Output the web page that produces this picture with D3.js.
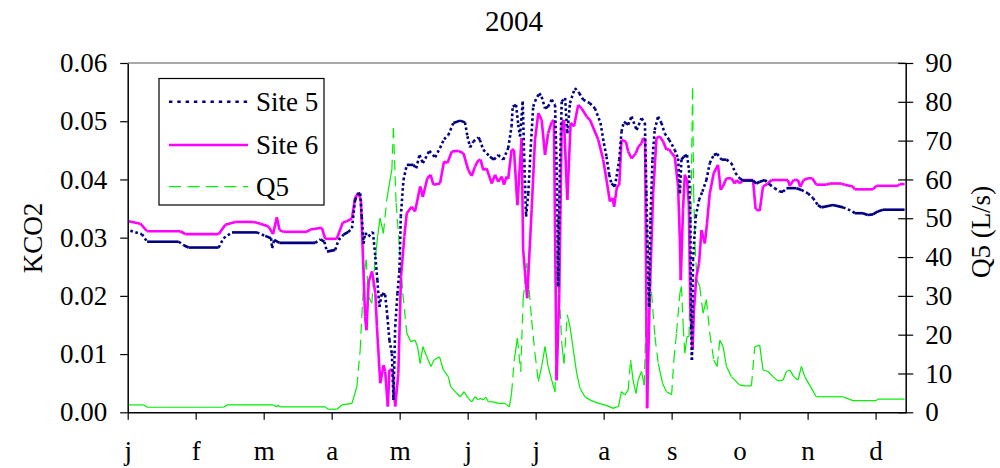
<!DOCTYPE html>
<html lang="en">
<head>
    <meta charset="UTF-8">
    <title>2004</title>
    <script src="https://d3js.org/d3.v7.min.js" charset="utf-8"></script>
    <style>
        body { margin: 0; background: #fff; }
        text { font-family: "Liberation Serif", "Times New Roman", serif; fill: #000; }
    </style>
</head>
<body>
<script>
    // month tick labels (x axis is day of year, one tick every 30.5 days)
    var months = ["j", "f", "m", "a", "m", "j", "j", "a", "s", "o", "n", "d"];
    var leftTicks = [0, 0.01, 0.02, 0.03, 0.04, 0.05, 0.06];
    var rightTicks = [0, 10, 20, 30, 40, 50, 60, 70, 80, 90];

    // [day, KCO2] Site 5
    var site5 = [[1.2,0.0312],[6.4,0.0306],[8.7,0.0293],[22.9,0.0293],[25.1,0.0287],[27.3,0.0283],[40.8,0.0283],
        [43,0.0299],[46.8,0.0309],[58,0.0309],[61.7,0.0303],[64.3,0.0299],[64.8,0.0282],[65.7,0.0296],[68.1,0.0291],
        [84.1,0.0291],[86.4,0.0297],[88.2,0.0293],[89.4,0.0276],[93.1,0.0279],[94.6,0.0296],[96.8,0.0305],[99,0.0310],
        [100.6,0.0316],[102,0.0365],[103.5,0.0376],[104.3,0.0376],[105,0.0336],[105.8,0.0290],[106.5,0.0308],[108,0.0302],
        [110,0.0310],[111.1,0.0267],[112,0.0227],[112.9,0.0181],[114,0.0204],[115.5,0.0202],[116.5,0.0164],[117.4,0.0124],
        [118.5,0.0101],[119.2,0.0021],[120,0.0147],[121,0.0204],[121.9,0.0244],[122.5,0.0336],[123.7,0.0399],[125.2,0.0425],
        [128.2,0.0425],[129.4,0.0419],[130.9,0.0442],[132.4,0.0428],[135.3,0.0449],[137.9,0.0438],[140.1,0.0454],[141.9,0.0469],
        [143.8,0.0476],[146.1,0.0497],[149.1,0.0501],[151.3,0.0498],[152.4,0.0474],[153.6,0.0455],[155,0.0465],[157.3,0.0472],
        [158,0.0468],[159.5,0.0451],[162.5,0.0439],[164.3,0.0434],[166.2,0.0442],[168.5,0.0434],[170.7,0.0454],[172.2,0.0491],
        [172.7,0.0525],[174.2,0.0528],[175.2,0.0494],[176,0.0474],[177.2,0.0534],[177.9,0.0434],[178.7,0.0336],[179.7,0.0376],
        [180.8,0.0456],[181.9,0.0525],[182.7,0.0534],[184.6,0.0548],[185.7,0.0542],[187.2,0.0522],[188.6,0.0525],[190.2,0.0537],
        [191.7,0.0528],[192.7,0.0376],[193.1,0.0216],[193.9,0.0422],[194.7,0.0534],[196.2,0.0540],[197.2,0.0479],[198.4,0.0531],
        [200.6,0.0557],[202.6,0.0548],[204.3,0.0537],[207.3,0.0531],[209.6,0.0522],[212.1,0.0497],[213.6,0.0462],[214.8,0.0439],
        [216,0.0408],[217,0.0393],[218.5,0.0388],[219.3,0.0405],[220.5,0.0434],[221.5,0.0482],[222.6,0.0499],[224.5,0.0494],
        [226,0.0508],[228.3,0.0485],[230.5,0.0505],[232,0.0497],[232.7,0.0376],[233.5,0.0233],[233.9,0.0181],[234.5,0.0330],
        [235.4,0.0434],[236.4,0.0485],[237.9,0.0508],[239.4,0.0497],[240.9,0.0479],[242.9,0.0468],[245.4,0.0451],[246.9,0.0436],
        [247.7,0.0376],[248.4,0.0434],[249.4,0.0439],[250.9,0.0442],[251.8,0.0416],[252.4,0.0330],[252.8,0.0147],[253.1,0.0090],
        [253.6,0.0262],[254.8,0.0336],[256.3,0.0365],[257.8,0.0379],[259.6,0.0399],[261.1,0.0428],[262.9,0.0442],[264.4,0.0444],
        [266.4,0.0434],[268.6,0.0434],[270.8,0.0428],[272.6,0.0411],[274.5,0.0402],[276,0.0398],[280.5,0.0398],[282,0.0393],
        [283.5,0.0396],[285.8,0.0399],[288,0.0391],[290.2,0.0385],[292.5,0.0379],[294,0.0379],[295.5,0.0385],[300,0.0385],
        [302.2,0.0382],[305.2,0.0376],[307.4,0.0368],[309.6,0.0356],[311.2,0.0352],[316.4,0.0356],[320.9,0.0352],[325.3,0.0345],
        [326.1,0.0342],[329.8,0.0342],[332,0.0339],[334.3,0.0340],[336.5,0.0345],[338.8,0.0348],[348.5,0.0348]];

    // [day, KCO2] Site 6
    var site6 = [[0.4,0.0328],[5.7,0.0324],[8.7,0.0311],[23.6,0.0311],[25.9,0.0306],[40.8,0.0306],[43.8,0.0322],[48.3,0.0327],
        [56.5,0.0327],[59.5,0.0324],[63.2,0.0319],[65.2,0.0306],[66.9,0.0335],[68.1,0.0313],[69.9,0.0310],[80.4,0.0310],
        [81.9,0.0314],[87.1,0.0317],[88.6,0.0298],[93.8,0.0298],[96.5,0.0326],[98.3,0.0328],[100.6,0.0333],[102,0.0368],
        [103.5,0.0377],[104.6,0.0365],[106.5,0.0164],[107.1,0.0141],[108.1,0.0224],[109.6,0.0242],[111.1,0.0204],[111.8,0.0147],
        [113.3,0.0050],[114.8,0.0081],[115.5,0.0070],[116.7,0.0010],[117.4,0.0073],[118.9,0.0073],[120,0.0010],[121.4,0.0067],
        [122.6,0.0233],[124.1,0.0302],[125.2,0.0342],[127.4,0.0353],[128.9,0.0345],[131.2,0.0388],[132.4,0.0370],[134.4,0.0402],
        [135.9,0.0408],[137.1,0.0391],[140.1,0.0393],[141.9,0.0431],[143.4,0.0428],[145.4,0.0448],[148.3,0.0449],[150.6,0.0445],
        [152.8,0.0416],[154.3,0.0406],[155.8,0.0422],[157.3,0.0433],[158.3,0.0434],[159.5,0.0416],[161,0.0419],[163.3,0.0393],
        [164.8,0.0408],[166.2,0.0396],[167.8,0.0405],[168.8,0.0391],[170,0.0405],[170.7,0.0401],[172.2,0.0451],[173.3,0.0451],
        [174.8,0.0356],[176.7,0.0471],[177.4,0.0279],[179.2,0.0196],[181.2,0.0348],[182.7,0.0468],[184.2,0.0514],[185.7,0.0502],
        [187.2,0.0442],[188.6,0.0479],[190.2,0.0499],[191.2,0.0502],[192.4,0.0055],[193.6,0.0204],[194.7,0.0497],[195.7,0.0502],
        [197.2,0.0365],[198.7,0.0497],[200.2,0.0491],[202.1,0.0528],[203.6,0.0522],[205.9,0.0508],[207.4,0.0502],[211.1,0.0468],
        [213.3,0.0434],[214.8,0.0399],[216.3,0.0362],[217.5,0.0368],[218.2,0.0353],[219.5,0.0388],[220.5,0.0390],[221.5,0.0468],
        [223.5,0.0465],[224.5,0.0448],[226,0.0436],[228,0.0445],[229,0.0456],[230.5,0.0462],[231.2,0.0471],[232.1,0.0468],
        [233,0.0007],[234.2,0.0204],[235.7,0.0376],[237.2,0.0471],[238.7,0.0474],[240.2,0.0465],[241.7,0.0451],[242.9,0.0452],
        [244,0.0445],[245.4,0.0439],[246.9,0.0388],[247.7,0.0296],[248.1,0.0227],[249.1,0.0348],[249.9,0.0408],[250.9,0.0399],
        [251.7,0.0359],[252.4,0.0176],[253.4,0.0107],[254,0.0176],[255.1,0.0233],[256.3,0.0256],[257.4,0.0313],[258.9,0.0290],
        [259.9,0.0325],[261.1,0.0376],[262.9,0.0411],[264.8,0.0425],[266,0.0382],[267,0.0388],[268.6,0.0402],[270.8,0.0402],
        [272.3,0.0393],[273.3,0.0399],[274.6,0.0393],[276,0.0399],[280.5,0.0399],[281.7,0.0349],[283.5,0.0346],[285,0.0388],
        [287.2,0.0393],[288.8,0.0399],[296.2,0.0399],[297,0.0389],[298.7,0.0399],[300.7,0.0399],[301.7,0.0387],[303.2,0.0399],
        [305.2,0.0402],[307.1,0.0402],[308.9,0.0391],[313.4,0.0391],[314.9,0.0393],[320.1,0.0393],[321.6,0.0391],[325.3,0.0388],
        [326.1,0.0383],[334.3,0.0383],[335.8,0.0389],[345.5,0.0389],[346.3,0.0392],[348.5,0.0392]];

    // [day, L/s] Q5 (right axis)
    var q5 = [[0.4,1.9],[7.2,1.9],[8.7,1.3],[43,1.3],[44.5,1.9],[65.4,1.9],[66.9,1.4],[67.4,1.9],[68.4,1.4],[88.6,1.4],
        [90,0.8],[93.8,0.8],[96.1,1.9],[100.6,2.3],[102.8,6.6],[104.3,16.1],[105,24.6],[106.1,35.8],[107,39.3],[108,29.8],
        [109.5,28.1],[111,39.3],[112.1,45.3],[113.2,50],[114.7,46.1],[116.2,54.7],[117.4,59],[118.5,62.5],[119.2,73.2],
        [120.4,53.9],[121.9,42.7],[123.4,30.7],[125.2,20.4],[127,18.2],[128.9,18.6],[130,16.9],[131.2,12.6],[132.4,16.9],
        [134.2,14.3],[136,11.8],[137.4,13.5],[139.9,14.3],[141.6,10.9],[143.8,9.2],[144.9,6.6],[147.6,4.9],[149.1,4.0],
        [150.9,5.3],[152.8,3.6],[154.3,2.7],[155.8,4.0],[157.3,3.2],[158,3.6],[159.5,3.2],[160.7,3.9],[161.8,2.7],[164,2.7],
        [166.2,2.3],[169.2,2.3],[171.2,1.4],[172.2,4.9],[173.4,13.5],[174.8,19.1],[176.3,10.5],[177.4,29],[179,38.4],
        [180.1,31.5],[181.2,23.8],[182.7,15.2],[184.2,7.9],[185.7,11.8],[187.2,16.9],[188.6,11.8],[190.2,8.3],[191.7,5.3],
        [192.4,30.7],[192.9,50.4],[193.6,30.7],[194.7,17.8],[195.7,12.6],[197.2,25.1],[198.4,22.1],[199.9,16.1],[201.4,10.1],
        [202.9,6.2],[205.1,4.0],[207.3,3.2],[211.1,2.3],[214.1,1.9],[216.3,1.4],[217.8,1.0],[219.3,1.4],[220.1,1.4],[221.5,5.3],
        [223,4.5],[224.5,5.7],[225.6,13.5],[226.7,8.3],[228,4.9],[229,8.3],[230.5,10.5],[231.7,7.0],[232.4,22.1],[233,47.8],
        [233.9,39.3],[235,30.7],[236.5,19.5],[238,12.6],[239.9,7.5],[241.7,5.3],[244,4.5],[245,13.5],[246.2,20.4],[247.7,30.7],
        [248.4,32.4],[249.2,22.1],[249.9,15.2],[250.9,19.5],[251.8,19.5],[252.4,39.3],[253.4,83.5],[253.9,56.5],[254.5,42.7],
        [255.4,34.1],[256.6,32.4],[258.1,25.5],[259.6,29],[261.1,20.4],[262.9,13.5],[264.4,11.8],[265.6,18.6],[267.1,16.9],
        [268.6,11.8],[270.8,9.2],[274.6,7.0],[277.2,6.8],[279.8,6.8],[281.3,16.9],[283.5,17.3],[285,10.9],[287.2,10.5],
        [289.5,9.2],[291.7,8.1],[294,8.3],[295.5,10.5],[297,10.9],[298.8,9.2],[300.7,8.3],[302.2,11.8],[303.7,9.2],[305.9,7.0],
        [308.9,4.0],[320.8,4.0],[325.3,3.0],[335.8,3.0],[336.5,3.4],[348.5,3.4]];

    var width = 1000, height = 468;
    var plot = {left: 127.7, right: 905.7, top: 63, bottom: 412.3};

    var x = d3.scaleLinear().domain([0, 349]).range([plot.left, plot.right]);
    var yL = d3.scaleLinear().domain([0, 0.06]).range([plot.bottom, plot.top]);
    var yR = d3.scaleLinear().domain([0, 90]).range([plot.bottom, plot.top]);

    var svg = d3.select("body").append("svg")
        .attr("width", width)
        .attr("height", height);

    // grey top edge of the plot area
    svg.append("line")
        .attr("x1", plot.left).attr("x2", plot.right)
        .attr("y1", plot.top).attr("y2", plot.top)
        .attr("stroke", "#8c8c8c").attr("stroke-width", 1.5);

    // Excel restarts the dash pattern on every segment, so only long
    // (steep) segments show gaps: draw segment by segment
    function drawSeries(data, y, color, w, dash, minDy) {
        svg.append("g").selectAll("line")
            .data(d3.pairs(data)).enter()
            .append("line")
            .attr("x1", function(d) { return x(d[0][0]); })
            .attr("y1", function(d) { return y(d[0][1]); })
            .attr("x2", function(d) { return x(d[1][0]); })
            .attr("y2", function(d) { return y(d[1][1]); })
            .attr("stroke", color)
            .attr("stroke-width", w)
            .attr("stroke-linecap", "butt")
            .attr("stroke-dasharray", function(d) {
                var dy = Math.abs(y(d[1][1]) - y(d[0][1]));
                return dy > minDy ? dash : null;
            });
    }

    drawSeries(q5, yR, "#00ee00", 1.2, "10,6", 25);
    drawSeries(site6, yL, "#ff00ff", 2.6, null, 1e9);
    drawSeries(site5, yL, "#000080", 2.6, "2.6,2.6", 3);

    // axes
    var fontSize = "27px";

    var gLeft = svg.append("g")
        .attr("transform", "translate(" + plot.left + ",0)")
        .call(d3.axisLeft(yL).tickValues(leftTicks).tickFormat(d3.format(".2f"))
            .tickSize(7.5).tickSizeOuter(0).tickPadding(13));

    var gRight = svg.append("g")
        .attr("transform", "translate(" + plot.right + ",0)")
        .call(d3.axisRight(yR).tickValues(rightTicks)
            .tickSize(7.5).tickSizeOuter(0).tickPadding(12));
    gRight.selectAll(".tick line").attr("x1", -7.5).attr("x2", 7.5);

    var gBottom = svg.append("g")
        .attr("transform", "translate(0," + plot.bottom + ")")
        .call(d3.axisBottom(x).tickValues(d3.range(12).map(function(i) { return i * 30.5; }))
            .tickFormat(function(d, i) { return months[i]; })
            .tickSize(7.5).tickSizeOuter(0).tickPadding(21));

    [gLeft, gRight, gBottom].forEach(function(g) {
        g.selectAll("text")
            .style("font-family", '"Liberation Serif", "Times New Roman", serif')
            .style("font-size", fontSize)
            .attr("fill", "#000");
        g.selectAll("line").attr("stroke", "#000").attr("stroke-width", 1.2);
        g.select(".domain").attr("stroke", "#000").attr("stroke-width", 1.5);
    });

    // title and axis labels
    svg.append("text")
        .attr("x", 514).attr("y", 31)
        .style("text-anchor", "middle")
        .style("font-size", "29px")
        .text("2004");

    svg.append("text")
        .attr("transform", "translate(42,238) rotate(-90)")
        .style("text-anchor", "middle")
        .style("font-size", fontSize)
        .text("KCO2");

    svg.append("text")
        .attr("transform", "translate(990,232) rotate(-90)")
        .style("text-anchor", "middle")
        .style("font-size", fontSize)
        .text("Q5 (L/s)");

    // legend
    var legend = svg.append("g");
    legend.append("rect")
        .attr("x", 159).attr("y", 78.5)
        .attr("width", 165).attr("height", 126.5)
        .attr("fill", "#fff")
        .attr("stroke", "#000").attr("stroke-width", 1.2);

    var legendItems = [
        {name: "Site 5", color: "#000080", w: 2.6, dash: "3.4,4.9", y: 101.7},
        {name: "Site 6", color: "#ff00ff", w: 2.6, dash: null, y: 145},
        {name: "Q5", color: "#00ee00", w: 1.2, dash: "12,6.5", y: 186.7}
    ];
    legendItems.forEach(function(d) {
        legend.append("line")
            .attr("x1", 169).attr("x2", 248)
            .attr("y1", d.y).attr("y2", d.y)
            .attr("stroke", d.color)
            .attr("stroke-width", d.w)
            .attr("stroke-dasharray", d.dash);
        legend.append("text")
            .attr("x", 256).attr("y", d.y)
            .attr("dy", "0.35em")
            .style("font-size", fontSize)
            .text(d.name);
    });
</script>
</body>
</html>
